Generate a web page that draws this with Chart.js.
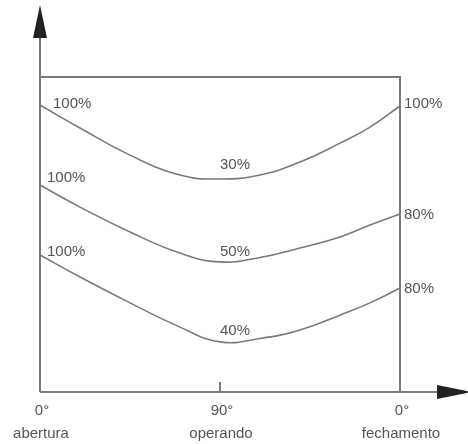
<!DOCTYPE html>
<html>
<head>
<meta charset="utf-8">
<script src="https://cdn.jsdelivr.net/npm/chart.js@4"></script>
<style>
  html, body { margin: 0; padding: 0; background: #ffffff; }
  #wrap { width: 468px; height: 444px; }
</style>
</head>
<body>
<div id="wrap"><canvas id="c" width="468" height="444"></canvas></div>
<script>
// Angle positions (degrees along the cycle: 0° abertura -> 90° operando -> 0° fechamento)
const angles = [0, 20, 45, 70, 90, 110, 130, 150, 165, 180];
// Curve values (relative height)
const curve1 = [91.1, 83.8, 75.2, 68.9, 67.6, 68.9, 73.0, 79.0, 84.1, 90.8];
const curve2 = [65.7, 58.7, 50.8, 44.1, 41.3, 42.7, 45.7, 49.2, 53.0, 56.5];
const curve3 = [43.5, 36.5, 28.3, 20.6, 15.9, 17.0, 19.7, 24.4, 28.3, 33.0];

// Tick labels of the horizontal axis
const tickValues = [0, 90, 180];
const tickDegrees = ['0°', '90°', '0°'];
const tickNames = ['abertura', 'operando', 'fechamento'];

// Percentage labels on curves
const labelTexts = ['100%', '30%', '100%', '100%', '50%', '80%', '100%', '40%', '80%'];
const labelAngles = [6.5, 90, 182, 3.5, 90, 182, 3.5, 90, 182];
const labelValues = [91.4, 72.1, 91.4, 67.9, 44.4, 56.2, 44.4, 19.4, 32.7];

const FONT = '15px "Liberation Sans", Arial, sans-serif';
const TEXT_COLOR = '#555555';
const LINE_COLOR = '#7a7a7a';

function toPoints(vals) {
  return angles.map((a, i) => ({ x: a, y: vals[i] }));
}

const decor = {
  id: 'decor',
  afterDraw(chart) {
    const ctx = chart.ctx;
    const xs = chart.scales.x, ys = chart.scales.y;
    const L = xs.getPixelForValue(0), R = xs.getPixelForValue(180);
    const T = ys.getPixelForValue(100), B = ys.getPixelForValue(0);
    ctx.save();
    ctx.strokeStyle = LINE_COLOR;
    ctx.lineWidth = 2;
    // box top and right
    ctx.beginPath();
    ctx.moveTo(L, T); ctx.lineTo(R, T); ctx.lineTo(R, B);
    ctx.stroke();
    // axes
    ctx.beginPath();
    ctx.moveTo(L, B); ctx.lineTo(L, 36);
    ctx.moveTo(L, B); ctx.lineTo(437, B);
    ctx.stroke();
    // middle tick
    const M = xs.getPixelForValue(90);
    ctx.beginPath();
    ctx.moveTo(M, B); ctx.lineTo(M, B - 10);
    ctx.stroke();
    // arrowheads
    ctx.fillStyle = '#222222';
    ctx.beginPath();
    ctx.moveTo(L, 5); ctx.lineTo(L - 7, 38); ctx.lineTo(L + 7, 38); ctx.closePath();
    ctx.fill();
    ctx.beginPath();
    ctx.moveTo(472, B); ctx.lineTo(437, B - 7); ctx.lineTo(437, B + 7); ctx.closePath();
    ctx.fill();
    // tick labels
    ctx.fillStyle = TEXT_COLOR;
    ctx.font = FONT;
    ctx.textAlign = 'center';
    ctx.textBaseline = 'middle';
    tickValues.forEach((v, i) => {
      const px = xs.getPixelForValue(v);
      ctx.fillText(tickDegrees[i], px + 2, B + 19);
      ctx.fillText(tickNames[i], px + 1, B + 42);
    });
    // curve labels
    ctx.textAlign = 'left';
    labelTexts.forEach((t, i) => {
      ctx.fillText(t, xs.getPixelForValue(labelAngles[i]), ys.getPixelForValue(labelValues[i]));
    });
    ctx.restore();
  }
};

const ds = (vals) => ({
  data: toPoints(vals),
  showLine: true,
  borderColor: LINE_COLOR,
  borderWidth: 1.6,
  pointRadius: 0,
  fill: false,
  tension: 0.45,
  clip: false
});

new Chart(document.getElementById('c'), {
  type: 'scatter',
  data: { datasets: [ds(curve1), ds(curve2), ds(curve3)] },
  options: {
    responsive: false,
    animation: false,
    layout: { padding: { left: 40, right: 68, top: 77, bottom: 52 } },
    plugins: { legend: { display: false }, tooltip: { enabled: false } },
    scales: {
      x: { type: 'linear', min: 0, max: 180, display: false },
      y: { type: 'linear', min: 0, max: 100, display: false }
    }
  },
  plugins: [decor]
});
</script>
</body>
</html>
